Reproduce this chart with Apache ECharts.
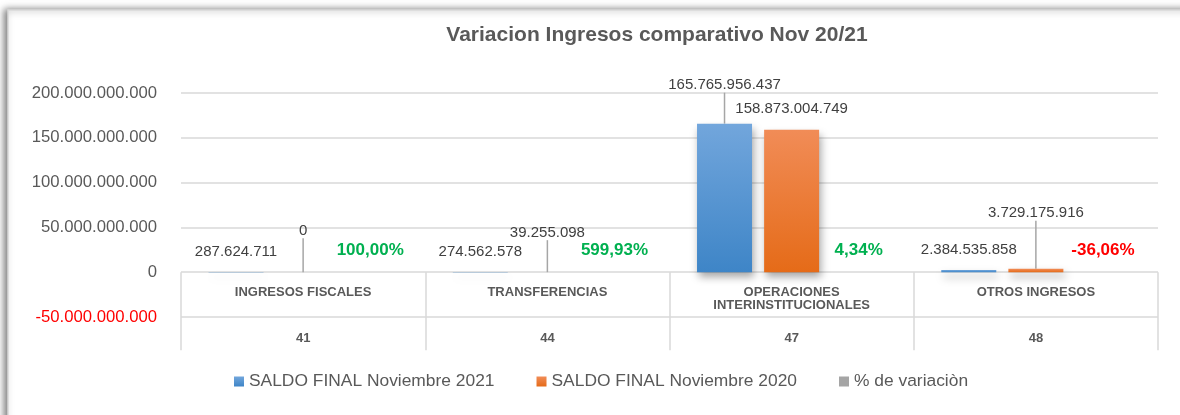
<!DOCTYPE html>
<html>
<head>
<meta charset="utf-8">
<script src="https://cdn.jsdelivr.net/npm/echarts@6/dist/echarts.min.js"></script>
<style>
html,body{margin:0;padding:0;background:#fff;}
#c{width:1180px;height:415px;}
</style>
</head>
<body>
<div id="c"></div>
<script>
// ---- data ----
const categories = ['INGRESOS FISCALES', 'TRANSFERENCIAS', 'OPERACIONES\nINTERINSTITUCIONALES', 'OTROS INGRESOS'];
const codes = ['41', '44', '47', '48'];
const saldo2021 = [287624711, 274562578, 165765956437, 2384535858];
const saldo2020 = [0, 39255098, 158873004749, 3729175916];
const variacion = [100.00, 599.93, 4.34, -36.06];
const seriesNames = ['SALDO FINAL Noviembre 2021', 'SALDO FINAL Noviembre 2020', '% de variaciòn'];
const yMin = -50000000000, yMax = 200000000000, yStep = 50000000000;

// ---- label layout (pixel lift of labels, styling only) ----
const lift2021 = [0, 0, -18, 0];
const lift2020 = [-21, -19, 0, -35];

const FONT = '"Liberation Sans", Arial, sans-serif';

function fmt(v) {
  const neg = v < 0;
  let s = Math.round(Math.abs(v)).toString();
  let out = '';
  while (s.length > 3) { out = '.' + s.slice(-3) + out; s = s.slice(0, -3); }
  out = s + out;
  return (neg ? '-' : '') + out;
}
function fmtPct(v) { return v.toFixed(2).replace('.', ',') + '%'; }

const chart = echarts.init(document.getElementById('c'), null, {renderer: 'canvas'});

const shadow = {shadowColor: 'rgba(0,0,0,0.35)', shadowBlur: 8, shadowOffsetX: 2, shadowOffsetY: 5};
const blue = new echarts.graphic.LinearGradient(0, 0, 0, 1, [{offset: 0, color: '#72a6dc'}, {offset: 1, color: '#3e85c7'}]);
const orange = new echarts.graphic.LinearGradient(0, 0, 0, 1, [{offset: 0, color: '#f18c57'}, {offset: 1, color: '#e56b18'}]);

function withLines(values, lifts) {
  return values.map(function (v, i) {
    return {value: v, labelLine: {show: lifts[i] !== 0}};
  });
}
const pctData = variacion.map(function (v) {
  return {value: v, label: {color: v < 0 ? '#ff0000' : '#00b050'}};
});

const labelBase = {show: true, position: 'top', distance: 13, fontFamily: FONT, fontSize: 15, color: '#404040',
  formatter: function (p) { return fmt(p.value); }};

const option = {
  animation: false,
  backgroundColor: '#ffffff',
  graphic: [{
    type: 'rect', z: -10, silent: true,
    shape: {x: 8, y: 10, width: 1200, height: 440},
    style: {fill: '#ffffff', stroke: '#d9d9d9', lineWidth: 1.5, shadowColor: 'rgba(0,0,0,0.5)', shadowBlur: 7, shadowOffsetX: -3}
  }],
  title: {
    text: 'Variacion Ingresos comparativo Nov 20/21',
    left: 652, textAlign: 'center', top: 20,
    textStyle: {fontFamily: FONT, fontSize: 21, fontWeight: 'bold', color: '#595959'}
  },
  legend: {
    bottom: 20, left: 229,
    itemWidth: 10, itemHeight: 10, itemGap: 42, icon: 'rect',
    textStyle: {fontFamily: FONT, fontSize: 17.4, color: '#595959'},
    data: seriesNames
  },
  grid: {left: 181, right: 22, top: 93, bottom: 98, containLabel: false},
  xAxis: [{
    type: 'category', data: categories, position: 'bottom', offset: -44.8,
    axisLine: {show: false, onZero: false},
    axisTick: {show: true, interval: 0, length: 78, lineStyle: {color: '#d9d9d9', width: 1.5}},
    axisLabel: {interval: 0, margin: 14, fontFamily: FONT, fontSize: 13, lineHeight: 13, fontWeight: 'bold', color: '#595959'}
  }, {
    type: 'category', data: codes, position: 'bottom', offset: 0,
    axisLine: {show: false, onZero: false},
    axisTick: {show: false},
    axisLabel: {interval: 0, margin: 15, fontFamily: FONT, fontSize: 13, fontWeight: 'bold', color: '#595959'}
  }],
  yAxis: {
    type: 'value', min: yMin, max: yMax, interval: yStep,
    axisLine: {show: false}, axisTick: {show: false},
    splitLine: {lineStyle: {color: '#d9d9d9', width: 1.5}},
    axisLabel: {
      margin: 24, fontFamily: FONT, fontSize: 16.7,
      color: function (v) { return v < 0 ? '#ff0000' : '#595959'; },
      formatter: function (v) { return fmt(v); }
    }
  },
  series: [{
    name: seriesNames[0], type: 'bar', xAxisIndex: 0, data: withLines(saldo2021, lift2021),
    barWidth: 55, barGap: '22%',
    itemStyle: Object.assign({color: blue}, shadow),
    label: labelBase,
    labelLine: {lineStyle: {color: '#a6a6a6', width: 1.5}},
    labelLayout: function (p) { return {dy: lift2021[p.dataIndex]}; }
  }, {
    name: seriesNames[1], type: 'bar', xAxisIndex: 0, data: withLines(saldo2020, lift2020),
    barWidth: 55, barGap: '22%',
    itemStyle: Object.assign({color: orange}, shadow),
    label: labelBase,
    labelLine: {lineStyle: {color: '#a6a6a6', width: 1.5}},
    labelLayout: function (p) { return {dy: lift2020[p.dataIndex]}; }
  }, {
    name: seriesNames[2], type: 'bar', xAxisIndex: 0, data: pctData,
    barWidth: 55, barGap: '22%',
    itemStyle: {color: '#a5a5a5'},
    label: {show: true, position: 'top', distance: 13, fontFamily: FONT, fontSize: 17, fontWeight: 'bold',
      formatter: function (p) { return fmtPct(p.value); }}
  }]
};
chart.setOption(option);
</script>
</body>
</html>
